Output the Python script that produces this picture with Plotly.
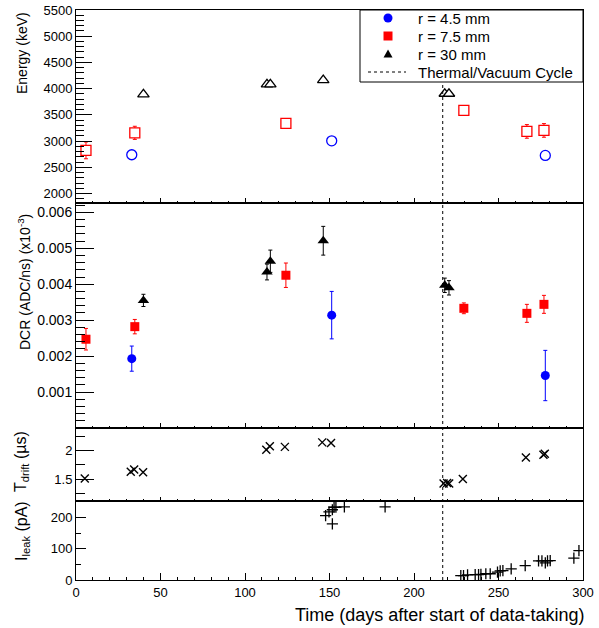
import plotly.graph_objects as go
from plotly.subplots import make_subplots

# ---------------- data ----------------
# Energy panel (keV)
days_45 = [33.0, 151.3, 277.7]
energy_45 = [2740, 3005, 2727]
days_75 = [5.9, 34.8, 124.2, 229.5, 266.8, 276.9]
energy_75 = [2823, 3158, 3337, 3586, 3185, 3204]
energy_75_err = [160, 125, 40, 40, 130, 130]
days_30 = [39.9, 113.0, 115.0, 146.3, 218.2, 220.7]
energy_30 = [3890, 4082, 4082, 4164, 3903, 3903]

# DCR panel (ADC/ns)
dcr_45 = [0.00193, 0.00314, 0.00146]
dcr_45_err = [0.00035, 0.00066, 0.00070]
dcr_75 = [0.00247, 0.00282, 0.00425, 0.00333, 0.00319, 0.00344]
dcr_75_err = [0.00030, 0.00020, 0.00034, 0.00015, 0.00025, 0.00025]
dcr_30 = [0.00355, 0.00434, 0.00464, 0.00521, 0.00397, 0.00390]
dcr_30_err = [0.00017, 0.00022, 0.00031, 0.00040, 0.00020, 0.00020]

# Drift time (us)
tdrift_days = [5.2, 32.4, 34.4, 39.7, 112.6, 114.7, 123.6, 145.7, 150.9,
               217.5, 219.6, 220.8, 228.9, 266.2, 276.6, 277.4]
tdrift_vals = [1.51, 1.63, 1.67, 1.62, 2.02, 2.08, 2.07, 2.15, 2.14,
               1.42, 1.43, 1.42, 1.50, 1.88, 1.93, 1.95]

# Leakage current (pA)
ileak_days = [147.7, 149.7, 151.7, 151.7, 152.7, 153.8, 158.8, 182.9,
              227.7, 229.3, 231.7, 236.2, 238.2, 239.6, 242.5, 245.1,
              249.4, 251.0, 252.6, 257.5, 265.8, 273.7, 275.7, 277.7,
              279.0, 280.6, 294.6, 297.6]
ileak_vals = [206, 218, 225, 180, 233, 233, 234, 234,
              14, 14, 16.5, 17.5, 17.5, 18, 20, 20,
              25, 29, 30, 35.5, 46, 61, 61, 55,
              61, 62, 70, 94]

cycle_day = 217.0

x_ticks = [0, 50, 100, 150, 200, 250, 300]

# ---------------- figure ----------------
FONT = "Liberation Sans, Arial, sans-serif"
BLUE, RED, BLACK = "#0000ff", "#ff0000", "#000000"

W, H = 599, 628
ML, MR, MT, MB = 76, 16, 10, 48
PW, PH = W - ML - MR, H - MT - MB


def px_x(p):
    return (p - ML) / PW


def px_y(p):
    return (H - MB - p) / PH


fig = make_subplots(rows=4, cols=1, shared_xaxes=True, vertical_spacing=0,
                    row_heights=[193, 225, 73, 79])

# Energy panel (open markers)
fig.add_trace(go.Scatter(x=days_45, y=energy_45, mode="markers",
                         marker=dict(symbol="circle", size=10, color="white",
                                     line=dict(color=BLUE, width=1.3))), row=1, col=1)
fig.add_trace(go.Scatter(x=days_75, y=energy_75, mode="markers",
                         error_y=dict(type="data", array=energy_75_err, color=RED,
                                      thickness=1, width=2),
                         marker=dict(symbol="square", size=10, color="white",
                                     line=dict(color=RED, width=1.3))), row=1, col=1)
fig.add_trace(go.Scatter(x=days_30, y=energy_30, mode="markers",
                         marker=dict(symbol="triangle-up", size=10, color="white",
                                     line=dict(color=BLACK, width=1.3))), row=1, col=1)

# DCR panel (filled markers)
fig.add_trace(go.Scatter(x=days_45, y=dcr_45, mode="markers",
                         error_y=dict(type="data", array=dcr_45_err, color=BLUE,
                                      thickness=1, width=2),
                         marker=dict(symbol="circle", size=9, color=BLUE)), row=2, col=1)
fig.add_trace(go.Scatter(x=days_75, y=dcr_75, mode="markers",
                         error_y=dict(type="data", array=dcr_75_err, color=RED,
                                      thickness=1, width=2),
                         marker=dict(symbol="square", size=9, color=RED)), row=2, col=1)
fig.add_trace(go.Scatter(x=days_30, y=dcr_30, mode="markers",
                         error_y=dict(type="data", array=dcr_30_err, color=BLACK,
                                      thickness=1, width=2),
                         marker=dict(symbol="triangle-up", size=10, color=BLACK)), row=2, col=1)

# Tdrift
fig.add_trace(go.Scatter(x=tdrift_days, y=tdrift_vals, mode="markers",
                         marker=dict(symbol="x-thin", size=8,
                                     line=dict(color=BLACK, width=1.4))), row=3, col=1)
# Ileak
fig.add_trace(go.Scatter(x=ileak_days, y=ileak_vals, mode="markers",
                         marker=dict(symbol="cross-thin", size=8,
                                     line=dict(color=BLACK, width=1.3))), row=4, col=1)

axis_common = dict(showline=True, linecolor="black", linewidth=1, mirror=True,
                   ticks="inside", showgrid=False, zeroline=False, automargin=False,
                   tickcolor="black", tickfont=dict(family=FONT, size=13, color="black"))

x_tick_lens = [(5, 2.5), (5, 2.5), (4, 2), (7, 3.5)]
for i, (maj, mn) in enumerate(x_tick_lens, start=1):
    fig.update_xaxes(range=[0, 300], tickvals=x_ticks, ticklen=maj,
                     minor=dict(dtick=10, ticklen=mn, ticks="inside", tickcolor="black"),
                     showticklabels=(i == 4), row=i, col=1, **axis_common)

fig.update_yaxes(range=[1820, 5500], dtick=500, tick0=0, ticklen=16,
                 minor=dict(dtick=100, ticklen=8, ticks="inside", tickcolor="black"),
                 row=1, col=1, **axis_common)
common2 = dict(axis_common)
common2["tickfont"] = dict(family=FONT, size=14, color="black")
fig.update_yaxes(range=[0, 0.00626],
                 tickvals=[0.001, 0.002, 0.003, 0.004, 0.005, 0.006],
                 ticktext=["0.001", "0.002", "0.003", "0.004", "0.005", "0.006"],
                 ticklen=18,
                 minor=dict(dtick=0.0002, ticklen=9, ticks="inside", tickcolor="black"),
                 row=2, col=1, **common2)
fig.update_yaxes(range=[1.11, 2.405], tickvals=[1.5, 2], ticktext=["1.5", "2"], ticklen=18,
                 minor=dict(dtick=0.25, tick0=0, ticklen=9, ticks="inside", tickcolor="black"),
                 row=3, col=1, **axis_common)
fig.update_yaxes(range=[0, 253], tickvals=[0, 100, 200], ticklen=10,
                 minor=dict(dtick=50, ticklen=5, ticks="inside", tickcolor="black"),
                 row=4, col=1, **axis_common)

shapes = []
# Thermal / vacuum cycle line across all panels
shapes.append(dict(type="line", xref="x4", yref="paper", x0=cycle_day, x1=cycle_day,
                   y0=0, y1=1, line=dict(color="black", width=1, dash="3px,3px"),
                   layer="above"))
# legend box
shapes.append(dict(type="rect", xref="paper", yref="paper", x0=px_x(360), x1=1.0,
                   y0=px_y(82), y1=1.0, fillcolor="white",
                   line=dict(color="black", width=1), layer="above"))
lx = px_x(388)
rows_y = [px_y(18), px_y(36), px_y(54), px_y(72)]
shapes.append(dict(type="circle", xref="paper", yref="paper", xsizemode="pixel",
                   ysizemode="pixel", xanchor=lx, yanchor=rows_y[0], x0=-4.5, x1=4.5,
                   y0=-4.5, y1=4.5, fillcolor=BLUE, line=dict(color=BLUE, width=0),
                   layer="above"))
shapes.append(dict(type="rect", xref="paper", yref="paper", xsizemode="pixel",
                   ysizemode="pixel", xanchor=lx, yanchor=rows_y[1], x0=-4.5, x1=4.5,
                   y0=-4.5, y1=4.5, fillcolor=RED, line=dict(color=RED, width=0),
                   layer="above"))
shapes.append(dict(type="path", xref="paper", yref="paper", xsizemode="pixel",
                   ysizemode="pixel", xanchor=lx, yanchor=rows_y[2],
                   path="M-4.5,-3.5 L4.5,-3.5 L0,4.5 Z", fillcolor=BLACK,
                   line=dict(color=BLACK, width=0), layer="above"))
shapes.append(dict(type="line", xref="paper", yref="paper", x0=px_x(368), x1=px_x(406),
                   y0=rows_y[3], y1=rows_y[3],
                   line=dict(color="black", width=1, dash="3px,3px"), layer="above"))
fig.update_layout(shapes=shapes)

legend_texts = ["r = 4.5 mm", "r = 7.5 mm", "r = 30 mm", "Thermal/Vacuum Cycle"]
annotations = []
for t, yy in zip(legend_texts, rows_y):
    annotations.append(dict(text=t, xref="paper", yref="paper", x=px_x(416), y=yy,
                            xanchor="left", yanchor="middle", showarrow=False,
                            font=dict(family=FONT, size=15, color="black")))

title_font = dict(family=FONT, size=14, color="black")
annotations.append(dict(text="Energy (keV)", xref="paper", yref="paper", x=px_x(22),
                        y=px_y(10), xanchor="center", yanchor="top", textangle=-90,
                        showarrow=False, font=title_font))
annotations.append(dict(text="DCR (ADC/ns) (x10<sup>-3</sup>)", xref="paper", yref="paper",
                        x=px_x(24), y=px_y(212), xanchor="center", yanchor="top",
                        textangle=-90, showarrow=False, font=title_font))
annotations.append(dict(text="T<sub>drift</sub> (µs)", xref="paper", yref="paper",
                        x=px_x(21), y=px_y(462), xanchor="center", yanchor="middle",
                        textangle=-90, showarrow=False,
                        font=dict(family=FONT, size=16, color="black")))
annotations.append(dict(text="I<sub>leak</sub> (pA)", xref="paper", yref="paper",
                        x=px_x(22), y=px_y(531), xanchor="center", yanchor="middle",
                        textangle=-90, showarrow=False,
                        font=dict(family=FONT, size=16, color="black")))
annotations.append(dict(text="Time (days after start of data-taking)", xref="paper",
                        yref="paper", x=1.0, y=px_y(615), xanchor="right",
                        yanchor="middle", showarrow=False, xshift=3,
                        font=dict(family=FONT, size=18, color="black")))
fig.update_layout(annotations=annotations)

fig.update_layout(width=W, height=H, margin=dict(l=ML, r=MR, t=MT, b=MB, autoexpand=False),
                  paper_bgcolor="white", plot_bgcolor="white", showlegend=False,
                  font=dict(family=FONT, color="black"))
fig.update_xaxes(ticklabelstandoff=0, row=4, col=1)

fig.write_html("out.html", config={"displayModeBar": False},
               post_script="document.body.style.margin='0';document.body.style.overflow='hidden';")
